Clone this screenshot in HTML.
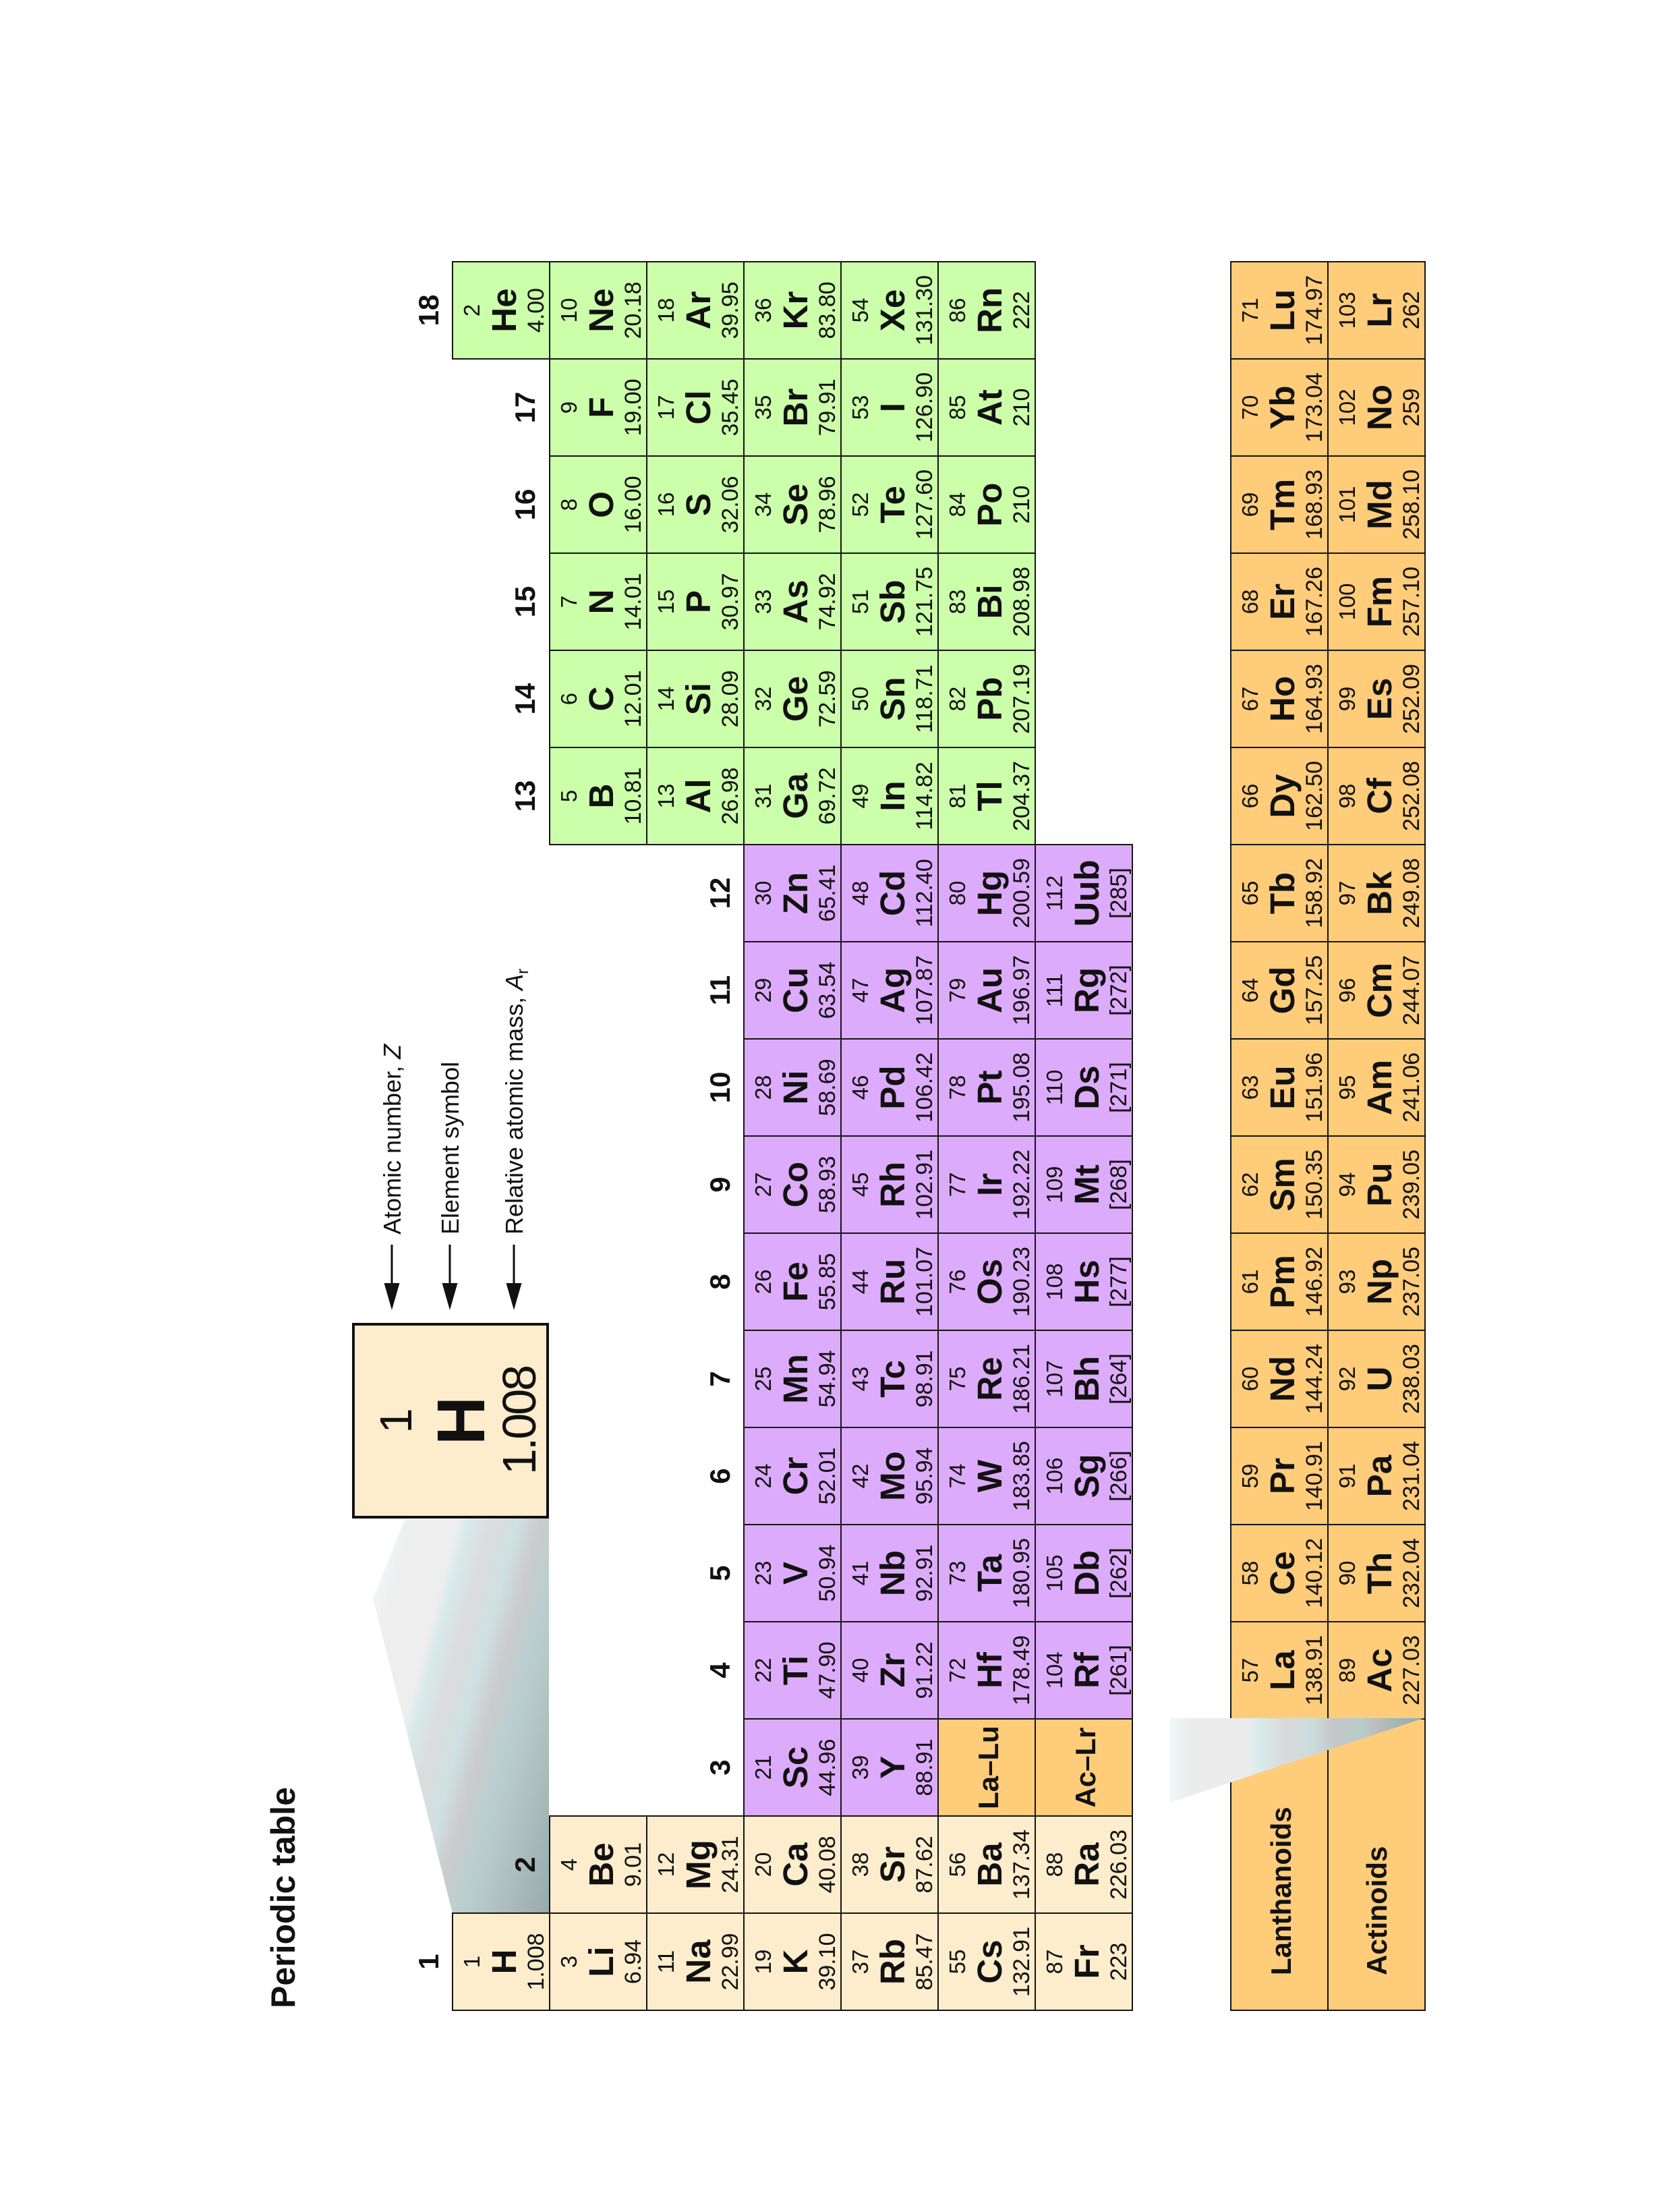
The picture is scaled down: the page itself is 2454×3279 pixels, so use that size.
<!DOCTYPE html>
<html><head><meta charset="utf-8"><style>
html,body{margin:0;padding:0;background:#fff;}
body{width:2454px;height:3279px;position:relative;overflow:hidden;font-family:"Liberation Sans",Arial,sans-serif;color:#111;}
#fr{position:absolute;left:0;top:3279px;width:3279px;height:2454px;transform-origin:0 0;transform:rotate(-90deg);}
.c{position:absolute;width:146px;height:146px;box-sizing:border-box;border:2px solid #151515;}
.c i,.c b,.c s{position:absolute;left:0;right:0;text-align:center;font-style:normal;text-decoration:none;white-space:nowrap;}
.c i{top:11px;font-size:33px;line-height:33px}
.c b{top:50px;font-size:51px;line-height:51px;font-weight:bold}
.c s{top:106px;font-size:34px;line-height:34px}
.s{background:#fdedcc}.d{background:#ddabfb}.p{background:#ccffaa}.f{background:#ffcc7a}
.g{position:absolute;width:146px;text-align:center;font-weight:bold;font-size:42px;line-height:42px}
.t{position:absolute;white-space:nowrap}
</style></head><body>
<svg style="position:absolute;left:0;top:0" width="2454" height="3279">
<defs>
<linearGradient id="g1" gradientUnits="userSpaceOnUse" x1="553" y1="2300" x2="933" y2="2402">
<stop offset="0" stop-color="#f0fafa"/><stop offset=".12" stop-color="#eeeeee"/><stop offset=".28" stop-color="#eeeeee"/><stop offset=".32" stop-color="#d8eaea"/><stop offset=".4" stop-color="#dcdcdc"/><stop offset=".5" stop-color="#cfe0e0"/><stop offset=".58" stop-color="#cbcbcb"/><stop offset=".66" stop-color="#bccfcf"/><stop offset=".75" stop-color="#b5c6c6"/><stop offset=".85" stop-color="#a9bbbb"/><stop offset="1" stop-color="#97a9a9"/>
</linearGradient>
</defs>
<polygon points="600,2253 814,2251 814,2836 671,2836 553,2370" fill="url(#g1)"/>
<g stroke="#111" stroke-width="3">
<line x1="581" y1="1845" x2="581" y2="1906"/><line x1="667" y1="1845" x2="667" y2="1906"/><line x1="762" y1="1845" x2="762" y2="1906"/>
</g>
<g fill="#111">
<polygon points="569.5,1902 592.5,1902 581,1942"/><polygon points="655.5,1902 678.5,1902 667,1942"/><polygon points="750.5,1902 773.5,1902 762,1942"/>
</g>
</svg>
<div id="fr">
<div class="t" style="left:302px;top:395px;font-size:50px;line-height:50px;font-weight:bold">Periodic table</div>
<div class="t" style="left:1449px;top:564px;font-size:36px;line-height:36px">Atomic number, <i>Z</i></div>
<div class="t" style="left:1449px;top:650px;font-size:36px;line-height:36px">Element symbol</div>
<div class="t" style="left:1449px;top:745px;font-size:36px;line-height:36px">Relative atomic mass, <i>A</i><sub style="font-size:24px">r</sub></div>
<div style="position:absolute;left:1028px;top:522px;width:290px;height:292px;box-sizing:border-box;border:4px solid #111;background:#fdedcc">
<div class="t" style="left:0;right:0;text-align:center;top:28px;font-size:67px;line-height:67px">1</div>
<div class="t" style="left:0;right:0;text-align:center;top:108px;font-size:100px;line-height:100px;font-weight:bold">H</div>
<div class="t" style="left:0;right:0;text-align:center;top:209px;font-size:70px;line-height:70px;letter-spacing:-3px">1.008</div>
</div>
<div class="g" style="left:298px;top:615px">1</div>
<div class="g" style="left:442px;top:758px">2</div>
<div class="g" style="left:586px;top:1047px">3</div>
<div class="g" style="left:730px;top:1047px">4</div>
<div class="g" style="left:874px;top:1047px">5</div>
<div class="g" style="left:1018px;top:1047px">6</div>
<div class="g" style="left:1162px;top:1047px">7</div>
<div class="g" style="left:1306px;top:1047px">8</div>
<div class="g" style="left:1450px;top:1047px">9</div>
<div class="g" style="left:1594px;top:1047px">10</div>
<div class="g" style="left:1738px;top:1047px">11</div>
<div class="g" style="left:1882px;top:1047px">12</div>
<div class="g" style="left:2026px;top:758px">13</div>
<div class="g" style="left:2170px;top:758px">14</div>
<div class="g" style="left:2314px;top:758px">15</div>
<div class="g" style="left:2458px;top:758px">16</div>
<div class="g" style="left:2602px;top:758px">17</div>
<div class="g" style="left:2746px;top:615px">18</div>

<div class="c s" style="left:298px;top:670px"><i>1</i><b>H</b><s>1.008</s></div>
<div class="c p" style="left:2746px;top:670px"><i>2</i><b>He</b><s>4.00</s></div>

<div class="c s" style="left:298px;top:814px"><i>3</i><b>Li</b><s>6.94</s></div>
<div class="c s" style="left:442px;top:814px"><i>4</i><b>Be</b><s>9.01</s></div>
<div class="c p" style="left:2026px;top:814px"><i>5</i><b>B</b><s>10.81</s></div>
<div class="c p" style="left:2170px;top:814px"><i>6</i><b>C</b><s>12.01</s></div>
<div class="c p" style="left:2314px;top:814px"><i>7</i><b>N</b><s>14.01</s></div>
<div class="c p" style="left:2458px;top:814px"><i>8</i><b>O</b><s>16.00</s></div>
<div class="c p" style="left:2602px;top:814px"><i>9</i><b>F</b><s>19.00</s></div>
<div class="c p" style="left:2746px;top:814px"><i>10</i><b>Ne</b><s>20.18</s></div>

<div class="c s" style="left:298px;top:958px"><i>11</i><b>Na</b><s>22.99</s></div>
<div class="c s" style="left:442px;top:958px"><i>12</i><b>Mg</b><s>24.31</s></div>
<div class="c p" style="left:2026px;top:958px"><i>13</i><b>Al</b><s>26.98</s></div>
<div class="c p" style="left:2170px;top:958px"><i>14</i><b>Si</b><s>28.09</s></div>
<div class="c p" style="left:2314px;top:958px"><i>15</i><b>P</b><s>30.97</s></div>
<div class="c p" style="left:2458px;top:958px"><i>16</i><b>S</b><s>32.06</s></div>
<div class="c p" style="left:2602px;top:958px"><i>17</i><b>Cl</b><s>35.45</s></div>
<div class="c p" style="left:2746px;top:958px"><i>18</i><b>Ar</b><s>39.95</s></div>

<div class="c s" style="left:298px;top:1102px"><i>19</i><b>K</b><s>39.10</s></div>
<div class="c s" style="left:442px;top:1102px"><i>20</i><b>Ca</b><s>40.08</s></div>
<div class="c d" style="left:586px;top:1102px"><i>21</i><b>Sc</b><s>44.96</s></div>
<div class="c d" style="left:730px;top:1102px"><i>22</i><b>Ti</b><s>47.90</s></div>
<div class="c d" style="left:874px;top:1102px"><i>23</i><b>V</b><s>50.94</s></div>
<div class="c d" style="left:1018px;top:1102px"><i>24</i><b>Cr</b><s>52.01</s></div>
<div class="c d" style="left:1162px;top:1102px"><i>25</i><b>Mn</b><s>54.94</s></div>
<div class="c d" style="left:1306px;top:1102px"><i>26</i><b>Fe</b><s>55.85</s></div>
<div class="c d" style="left:1450px;top:1102px"><i>27</i><b>Co</b><s>58.93</s></div>
<div class="c d" style="left:1594px;top:1102px"><i>28</i><b>Ni</b><s>58.69</s></div>
<div class="c d" style="left:1738px;top:1102px"><i>29</i><b>Cu</b><s>63.54</s></div>
<div class="c d" style="left:1882px;top:1102px"><i>30</i><b>Zn</b><s>65.41</s></div>
<div class="c p" style="left:2026px;top:1102px"><i>31</i><b>Ga</b><s>69.72</s></div>
<div class="c p" style="left:2170px;top:1102px"><i>32</i><b>Ge</b><s>72.59</s></div>
<div class="c p" style="left:2314px;top:1102px"><i>33</i><b>As</b><s>74.92</s></div>
<div class="c p" style="left:2458px;top:1102px"><i>34</i><b>Se</b><s>78.96</s></div>
<div class="c p" style="left:2602px;top:1102px"><i>35</i><b>Br</b><s>79.91</s></div>
<div class="c p" style="left:2746px;top:1102px"><i>36</i><b>Kr</b><s>83.80</s></div>

<div class="c s" style="left:298px;top:1246px"><i>37</i><b>Rb</b><s>85.47</s></div>
<div class="c s" style="left:442px;top:1246px"><i>38</i><b>Sr</b><s>87.62</s></div>
<div class="c d" style="left:586px;top:1246px"><i>39</i><b>Y</b><s>88.91</s></div>
<div class="c d" style="left:730px;top:1246px"><i>40</i><b>Zr</b><s>91.22</s></div>
<div class="c d" style="left:874px;top:1246px"><i>41</i><b>Nb</b><s>92.91</s></div>
<div class="c d" style="left:1018px;top:1246px"><i>42</i><b>Mo</b><s>95.94</s></div>
<div class="c d" style="left:1162px;top:1246px"><i>43</i><b>Tc</b><s>98.91</s></div>
<div class="c d" style="left:1306px;top:1246px"><i>44</i><b>Ru</b><s>101.07</s></div>
<div class="c d" style="left:1450px;top:1246px"><i>45</i><b>Rh</b><s>102.91</s></div>
<div class="c d" style="left:1594px;top:1246px"><i>46</i><b>Pd</b><s>106.42</s></div>
<div class="c d" style="left:1738px;top:1246px"><i>47</i><b>Ag</b><s>107.87</s></div>
<div class="c d" style="left:1882px;top:1246px"><i>48</i><b>Cd</b><s>112.40</s></div>
<div class="c p" style="left:2026px;top:1246px"><i>49</i><b>In</b><s>114.82</s></div>
<div class="c p" style="left:2170px;top:1246px"><i>50</i><b>Sn</b><s>118.71</s></div>
<div class="c p" style="left:2314px;top:1246px"><i>51</i><b>Sb</b><s>121.75</s></div>
<div class="c p" style="left:2458px;top:1246px"><i>52</i><b>Te</b><s>127.60</s></div>
<div class="c p" style="left:2602px;top:1246px"><i>53</i><b>I</b><s>126.90</s></div>
<div class="c p" style="left:2746px;top:1246px"><i>54</i><b>Xe</b><s>131.30</s></div>

<div class="c s" style="left:298px;top:1390px"><i>55</i><b>Cs</b><s>132.91</s></div>
<div class="c s" style="left:442px;top:1390px"><i>56</i><b>Ba</b><s>137.34</s></div>
<div class="c f" style="left:586px;top:1390px"><b style="font-size:42px;line-height:42px;top:53px">La–Lu</b></div>
<div class="c d" style="left:730px;top:1390px"><i>72</i><b>Hf</b><s>178.49</s></div>
<div class="c d" style="left:874px;top:1390px"><i>73</i><b>Ta</b><s>180.95</s></div>
<div class="c d" style="left:1018px;top:1390px"><i>74</i><b>W</b><s>183.85</s></div>
<div class="c d" style="left:1162px;top:1390px"><i>75</i><b>Re</b><s>186.21</s></div>
<div class="c d" style="left:1306px;top:1390px"><i>76</i><b>Os</b><s>190.23</s></div>
<div class="c d" style="left:1450px;top:1390px"><i>77</i><b>Ir</b><s>192.22</s></div>
<div class="c d" style="left:1594px;top:1390px"><i>78</i><b>Pt</b><s>195.08</s></div>
<div class="c d" style="left:1738px;top:1390px"><i>79</i><b>Au</b><s>196.97</s></div>
<div class="c d" style="left:1882px;top:1390px"><i>80</i><b>Hg</b><s>200.59</s></div>
<div class="c p" style="left:2026px;top:1390px"><i>81</i><b>Tl</b><s>204.37</s></div>
<div class="c p" style="left:2170px;top:1390px"><i>82</i><b>Pb</b><s>207.19</s></div>
<div class="c p" style="left:2314px;top:1390px"><i>83</i><b>Bi</b><s>208.98</s></div>
<div class="c p" style="left:2458px;top:1390px"><i>84</i><b>Po</b><s>210</s></div>
<div class="c p" style="left:2602px;top:1390px"><i>85</i><b>At</b><s>210</s></div>
<div class="c p" style="left:2746px;top:1390px"><i>86</i><b>Rn</b><s>222</s></div>

<div class="c s" style="left:298px;top:1534px"><i>87</i><b>Fr</b><s>223</s></div>
<div class="c s" style="left:442px;top:1534px"><i>88</i><b>Ra</b><s>226.03</s></div>
<div class="c f" style="left:586px;top:1534px"><b style="font-size:42px;line-height:42px;top:53px">Ac–Lr</b></div>
<div class="c d" style="left:730px;top:1534px"><i>104</i><b>Rf</b><s>[261]</s></div>
<div class="c d" style="left:874px;top:1534px"><i>105</i><b>Db</b><s>[262]</s></div>
<div class="c d" style="left:1018px;top:1534px"><i>106</i><b>Sg</b><s>[266]</s></div>
<div class="c d" style="left:1162px;top:1534px"><i>107</i><b>Bh</b><s>[264]</s></div>
<div class="c d" style="left:1306px;top:1534px"><i>108</i><b>Hs</b><s>[277]</s></div>
<div class="c d" style="left:1450px;top:1534px"><i>109</i><b>Mt</b><s>[268]</s></div>
<div class="c d" style="left:1594px;top:1534px"><i>110</i><b>Ds</b><s>[271]</s></div>
<div class="c d" style="left:1738px;top:1534px"><i>111</i><b>Rg</b><s>[272]</s></div>
<div class="c d" style="left:1882px;top:1534px"><i>112</i><b>Uub</b><s>[285]</s></div>

<div class="c f" style="left:298px;top:1824px;width:434px"></div>
<div class="c f" style="left:298px;top:1968px;width:434px"></div>
<div class="t" style="left:351px;top:1879px;font-size:42px;line-height:42px;font-weight:bold">Lanthanoids</div>
<div class="t" style="left:351px;top:2021px;font-size:42px;line-height:42px;font-weight:bold">Actinoids</div>

<div class="c f" style="left:730px;top:1824px"><i>57</i><b>La</b><s>138.91</s></div>
<div class="c f" style="left:874px;top:1824px"><i>58</i><b>Ce</b><s>140.12</s></div>
<div class="c f" style="left:1018px;top:1824px"><i>59</i><b>Pr</b><s>140.91</s></div>
<div class="c f" style="left:1162px;top:1824px"><i>60</i><b>Nd</b><s>144.24</s></div>
<div class="c f" style="left:1306px;top:1824px"><i>61</i><b>Pm</b><s>146.92</s></div>
<div class="c f" style="left:1450px;top:1824px"><i>62</i><b>Sm</b><s>150.35</s></div>
<div class="c f" style="left:1594px;top:1824px"><i>63</i><b>Eu</b><s>151.96</s></div>
<div class="c f" style="left:1738px;top:1824px"><i>64</i><b>Gd</b><s>157.25</s></div>
<div class="c f" style="left:1882px;top:1824px"><i>65</i><b>Tb</b><s>158.92</s></div>
<div class="c f" style="left:2026px;top:1824px"><i>66</i><b>Dy</b><s>162.50</s></div>
<div class="c f" style="left:2170px;top:1824px"><i>67</i><b>Ho</b><s>164.93</s></div>
<div class="c f" style="left:2314px;top:1824px"><i>68</i><b>Er</b><s>167.26</s></div>
<div class="c f" style="left:2458px;top:1824px"><i>69</i><b>Tm</b><s>168.93</s></div>
<div class="c f" style="left:2602px;top:1824px"><i>70</i><b>Yb</b><s>173.04</s></div>
<div class="c f" style="left:2746px;top:1824px"><i>71</i><b>Lu</b><s>174.97</s></div>

<div class="c f" style="left:730px;top:1968px"><i>89</i><b>Ac</b><s>227.03</s></div>
<div class="c f" style="left:874px;top:1968px"><i>90</i><b>Th</b><s>232.04</s></div>
<div class="c f" style="left:1018px;top:1968px"><i>91</i><b>Pa</b><s>231.04</s></div>
<div class="c f" style="left:1162px;top:1968px"><i>92</i><b>U</b><s>238.03</s></div>
<div class="c f" style="left:1306px;top:1968px"><i>93</i><b>Np</b><s>237.05</s></div>
<div class="c f" style="left:1450px;top:1968px"><i>94</i><b>Pu</b><s>239.05</s></div>
<div class="c f" style="left:1594px;top:1968px"><i>95</i><b>Am</b><s>241.06</s></div>
<div class="c f" style="left:1738px;top:1968px"><i>96</i><b>Cm</b><s>244.07</s></div>
<div class="c f" style="left:1882px;top:1968px"><i>97</i><b>Bk</b><s>249.08</s></div>
<div class="c f" style="left:2026px;top:1968px"><i>98</i><b>Cf</b><s>252.08</s></div>
<div class="c f" style="left:2170px;top:1968px"><i>99</i><b>Es</b><s>252.09</s></div>
<div class="c f" style="left:2314px;top:1968px"><i>100</i><b>Fm</b><s>257.10</s></div>
<div class="c f" style="left:2458px;top:1968px"><i>101</i><b>Md</b><s>258.10</s></div>
<div class="c f" style="left:2602px;top:1968px"><i>102</i><b>No</b><s>259</s></div>
<div class="c f" style="left:2746px;top:1968px"><i>103</i><b>Lr</b><s>262</s></div>
</div>
<svg style="position:absolute;left:0;top:0" width="2454" height="3279">
<defs>
<linearGradient id="g2" gradientUnits="userSpaceOnUse" x1="1735" y1="0" x2="2111" y2="0">
<stop offset="0" stop-color="#eef8f8"/><stop offset=".08" stop-color="#ececec"/><stop offset=".3" stop-color="#ececec"/><stop offset=".35" stop-color="#d8ecec"/><stop offset=".45" stop-color="#dadada"/><stop offset=".55" stop-color="#cddede"/><stop offset=".65" stop-color="#c6c6c6"/><stop offset=".75" stop-color="#b8cccc"/><stop offset=".82" stop-color="#bbbbbb"/><stop offset=".88" stop-color="#a5b8b8"/><stop offset="1" stop-color="#97a9a9"/>
</linearGradient>
</defs>
<polygon points="1735,2547 2111,2547 1735,2672" fill="url(#g2)"/>
</svg>
</body></html>
